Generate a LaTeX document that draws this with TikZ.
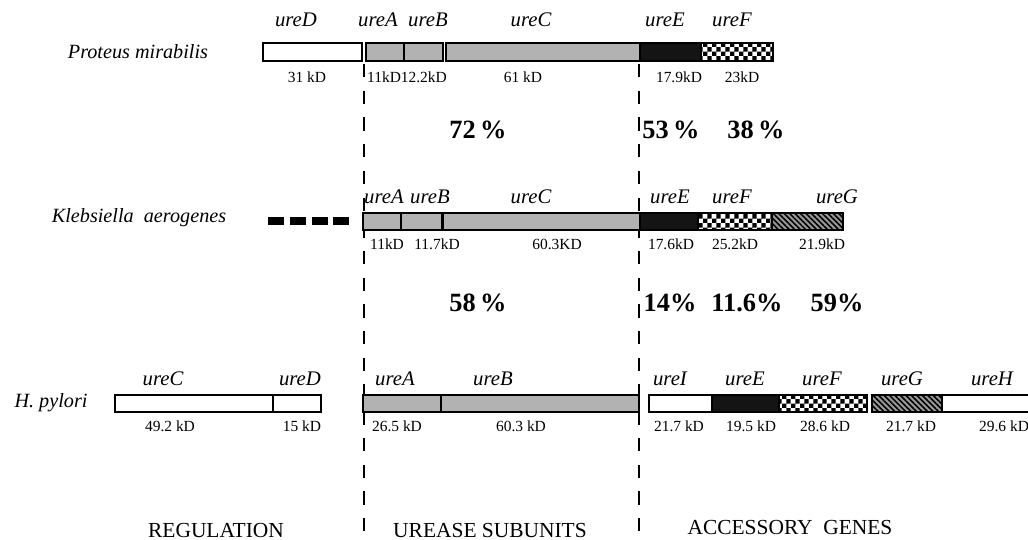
\documentclass[tikz,border=0pt]{standalone}
\usepackage{fontspec}
\setmainfont{Liberation Serif}
\usetikzlibrary{patterns, patterns.meta, positioning}
% checker squares for ureF
\pgfdeclarepatternformonly{chequer}{\pgfpointorigin}{\pgfqpoint{5pt}{5pt}}{\pgfqpoint{5pt}{5pt}}{
	\pgfpathrectangle{\pgfpointorigin}{\pgfqpoint{2.5pt}{2.5pt}}
	\pgfpathrectangle{\pgfqpoint{2.5pt}{2.5pt}}{\pgfqpoint{2.5pt}{2.5pt}}
	\pgfusepath{fill}}
\tikzset{
	blankbox/.style={draw=black, line width=0.8pt, fill=white},
	subbox/.style={draw=black, line width=0.8pt, fill=black!30},
	solidbox/.style={draw=black, line width=0.8pt, fill=black!92},
	checkbox/.style={draw=black, line width=0.8pt, preaction={fill=white}, pattern=chequer},
	hatchbox/.style={draw=black, line width=0.8pt, preaction={fill=black!40}, pattern={Lines[angle=-45, distance=2.2pt, line width=0.9pt]}},
	genelab/.style={font=\fontsize{11.8}{13}\selectfont\itshape, inner sep=0pt},
	kdlab/.style={font=\fontsize{8.8}{10}\selectfont, inner sep=0pt},
	pctlab/.style={font=\fontsize{15}{17}\selectfont\bfseries, inner sep=0pt},
	specieslab/.style={font=\fontsize{11.5}{13}\selectfont\itshape, inner sep=0pt},
	grouplab/.style={font=\fontsize{12.2}{14}\selectfont, inner sep=0pt},
	border/.style={line width=1.1pt, dash pattern=on 7.6pt off 7.6pt},
}

\begin{document}
\begin{tikzpicture}[x=0.02cm, y=-0.02cm]
	\useasboundingbox (0,0) rectangle (1028,539);
	% region borders
	\coordinate (lt) at (364,64);
	\coordinate (lb) at (364,539);
	\coordinate (rt) at (639,64);
	\coordinate (rb) at (639,539);
	\draw[border] (lt) -- (lb);
	\draw[border] (rt) -- (rb);

	% Proteus mirabilis
	\node[specieslab] (pm) at (138,52) {Proteus mirabilis};
	\foreach \a/\b/\s in {263/362/blankbox, 366/404/subbox, 404/443/subbox, 446/640/subbox, 640/701/solidbox, 701/773/checkbox}
		\draw[\s] (\a,43) rectangle (\b,61);
	\foreach \x/\t/\n in {296/ureD/pmD, 378/ureA/pmA, 428/ureB/pmB, 531/ureC/pmC, 665/ureE/pmE, 732/ureF/pmF}
		\node[genelab] (\n) at (\x,20) {\t};
	\foreach \x/\t/\n in {307/31 kD/pmkD, 407/11kD12.2kD/pmkAB, 523/61 kD/pmkC, 679/17.9kD/pmkE, 742/23kD/pmkF}
		\node[kdlab] (\n) at (\x,77) {\t};
	\node[pctlab] (p72) at (478,130) {72\,\%};
	\node[pctlab] (p53) at (671,130) {53\,\%};
	\node[pctlab] (p38) at (756,130) {38\,\%};

	% Klebsiella aerogenes
	\node[specieslab] (ka) at (139,218) {Klebsiella\ \ aerogenes};
	\coordinate (kdl) at (268,221);
	\coordinate (kdr) at (350,221);
	\draw[line width=4pt, dash pattern=on 9.1pt off 3.3pt] (kdl) -- (kdr);
	\foreach \a/\b/\s in {363/401/subbox, 401/442/subbox, 443/640/subbox, 640/698/solidbox, 698/772/checkbox, 772/843/hatchbox}
		\draw[\s] (\a,213) rectangle (\b,230);
	\foreach \x/\t/\n in {384/ureA/kaA, 430/ureB/kaB, 531/ureC/kaC, 670/ureE/kaE, 732/ureF/kaF, 837/ureG/kaG}
		\node[genelab] (\n) at (\x,197) {\t};
	\foreach \x/\t/\n in {387/11kD/kakA, 437/11.7kD/kakB, 557/60.3KD/kakC, 671/17.6kD/kakE, 735/25.2kD/kakF, 822/21.9kD/kakG}
		\node[kdlab] (\n) at (\x,244) {\t};
	\node[pctlab] (p58) at (478,303) {58\,\%};
	\node[pctlab] (p14) at (670,303) {14\%};
	\node[pctlab] (p116) at (747,303) {11.6\%};
	\node[pctlab] (p59) at (837,303) {59\%};

	% H. pylori
	\node[specieslab] (hp) at (51,403) {H. pylori};
	\foreach \a/\b/\s in {115/273/blankbox, 273/321/blankbox, 363/441/subbox, 441/639/subbox, 649/712/blankbox, 712/779/solidbox, 779/867/checkbox, 872/942/hatchbox, 942/1034/blankbox}
		\draw[\s] (\a,395) rectangle (\b,412);
	\foreach \x/\t/\n in {163/ureC/hpC, 300/ureD/hpD, 395/ureA/hpA, 493/ureB/hpB, 670/ureI/hpI, 745/ureE/hpE, 822/ureF/hpF, 902/ureG/hpG, 992/ureH/hpH}
		\node[genelab] (\n) at (\x,379) {\t};
	\foreach \x/\t/\n in {170/49.2 kD/hpkC, 302/15 kD/hpkD, 397/26.5 kD/hpkA, 521/60.3 kD/hpkB, 679/21.7 kD/hpkI, 751/19.5 kD/hpkE, 825/28.6 kD/hpkF, 911/21.7 kD/hpkG, 1004/29.6 kD/hpkH}
		\node[kdlab] (\n) at (\x,426) {\t};

	% groups
	\node[grouplab] (reg) at (216,530) {REGULATION};
	\node[grouplab] (sub) at (490,530) {UREASE SUBUNITS};
	\node[grouplab] (acc) at (790,527) {ACCESSORY\ \ GENES};
\end{tikzpicture}
\end{document}
